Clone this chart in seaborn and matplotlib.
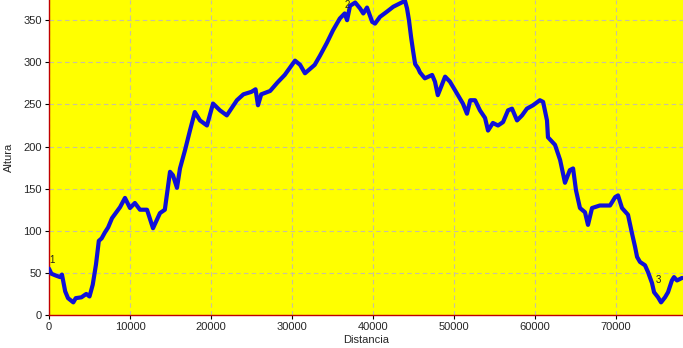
import matplotlib
matplotlib.use("Agg")
import matplotlib.pyplot as plt
import seaborn as sns
import pandas as pd

distancia = [0, 300, 800, 1360, 1600, 2000, 2350, 3000, 3300, 4000, 4600, 5000, 5400, 5800, 6150,
             6500, 6900, 7300, 7780, 8770, 9380, 10000, 10600, 11230, 12100, 12840, 13700, 14300,
             14940, 15300, 15800, 16170, 16800, 17400, 18000, 18640, 19500, 20250, 21100, 21950,
             23200, 24000, 25000, 25500, 25800, 26200, 27300, 28200, 29100, 30370, 31000, 31600,
             32800, 33460, 34300, 35060, 35900, 36500, 36800, 37160, 37800, 38400, 38800, 39260,
             39900, 40250, 40860, 41700, 42500, 43330, 43950, 44200, 44440, 44700, 44940, 45200,
             45560, 45800, 46400, 47300, 47650, 48000, 48900, 49500, 50370, 51100, 51600, 52000,
             52600, 53200, 53830, 54200, 54800, 55430, 56050, 56670, 57160, 57780, 58400, 59000,
             59750, 60600, 61000, 61480, 61600, 62470, 63100, 63700, 64300, 64700, 65060, 65550,
             66170, 66540, 67040, 68000, 69260, 69900, 70250, 70740, 71480, 71970, 72350, 72600,
             72960, 73580, 73950, 74440, 74700, 75190, 75560, 76050, 76420, 76900, 77160, 77530,
             78150]
altura = [55, 49, 47, 45, 48, 28, 20, 15, 20, 21, 25, 22, 36, 60, 88,
          91, 98, 104, 115, 128, 139, 127, 133, 125, 125, 103, 121, 125,
          170, 166, 151, 174, 196, 219, 241, 231, 225, 251, 243, 237,
          255, 262, 265, 268, 249, 262, 266, 276, 285, 302, 297, 287,
          297, 308, 323, 338, 352, 358, 350, 367, 371, 364, 358, 365,
          348, 346, 354, 360, 366, 370, 373, 364, 350, 330, 314, 298,
          293, 288, 281, 285, 277, 261, 283, 277, 263, 251, 239, 255,
          255, 243, 234, 219, 228, 225, 229, 243, 245, 231, 237, 245,
          249, 255, 253, 231, 211, 202, 184, 157, 172, 174, 148, 127,
          122, 107, 127, 130, 130, 140, 142, 127, 119, 97, 81, 69,
          63, 59, 51, 38, 27, 21, 15, 21, 27, 41, 45, 41,
          44]

marcas = ["1", "2", "3"]
marca_x = [100, 36500, 74900]
marca_y = [62, 364, 38]

x_ticks = [0, 10000, 20000, 30000, 40000, 50000, 60000, 70000]
y_ticks = [0, 50, 100, 150, 200, 250, 300, 350]

sns.set_style("white")
plt.rcParams['font.family'] = ['Liberation Sans', 'DejaVu Sans']

df = pd.DataFrame({"Distancia": distancia, "Altura": altura})

fig = plt.figure(figsize=(6.83, 3.48), dpi=100)
ax = fig.add_axes([49/683, 33/348, 1 - 49/683, 1 - 33/348])
ax.set_facecolor("#ffff00")

sns.lineplot(data=df, x="Distancia", y="Altura", ax=ax, color="#1010d8",
             linewidth=3.0, zorder=3)

for t, xx, yy in zip(marcas, marca_x, marca_y):
    ax.text(xx, yy, t, fontsize=7, color="#202020", zorder=4, clip_on=True)

ax.set_xlim(0, 78270)
ax.set_ylim(0, 374)
ax.set_xticks(x_ticks)
ax.set_yticks(y_ticks)
ax.set_xticklabels([str(v) for v in x_ticks])
ax.set_yticklabels([str(v) for v in y_ticks])
ax.grid(True, linestyle=(0, (4, 3)), color="#c8c0a0", linewidth=0.8, zorder=0)
ax.set_axisbelow(True)

for s in ["top", "right"]:
    ax.spines[s].set_visible(False)
for s in ["left", "bottom"]:
    ax.spines[s].set_color("#c00000")
    ax.spines[s].set_linewidth(1.0)

ax.tick_params(axis="both", which="both", direction="out", length=3, width=0.8,
               color="black", labelsize=8, pad=2, left=True, bottom=True)

ax.set_xlabel("Distancia", fontsize=8, labelpad=2)
ax.set_ylabel("Altura", fontsize=8, labelpad=7)

fig.savefig("out.png", dpi=100, facecolor="white")
